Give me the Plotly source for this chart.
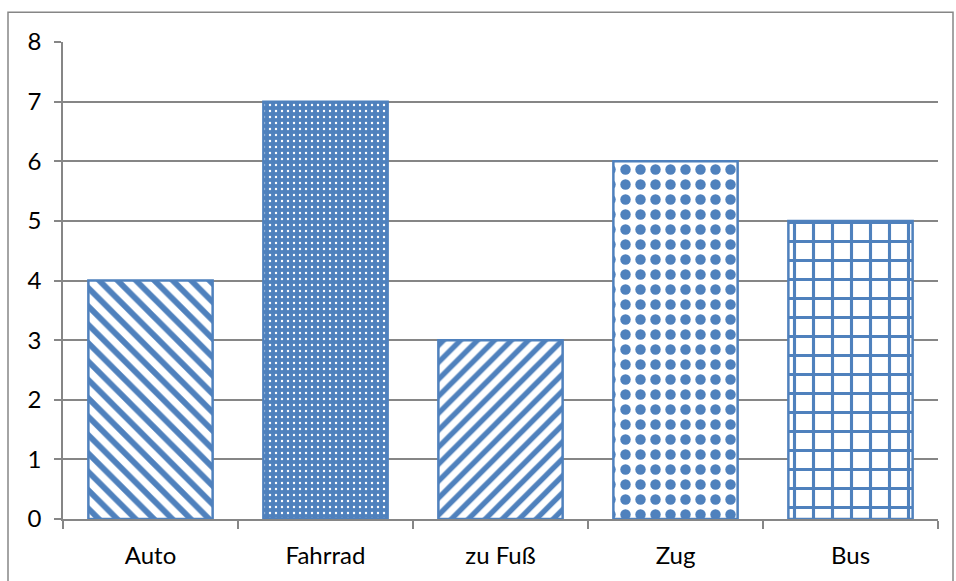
import plotly.graph_objects as go

categories = ["Auto", "Fahrrad", "zu Fuß", "Zug", "Bus"]
values = [4, 7, 3, 6, 5]
y_ticks = [0, 1, 2, 3, 4, 5, 6, 7, 8]

BLUE = "#4F81BD"
GRAY = "#868686"
pattern_shapes = ["\\", ".", "/", ".", "+"]
pattern_sizes = [13, 6, 12, 15, 19]
pattern_solidity = [0.45, 0.12, 0.45, 0.38, 0.3]
pattern_fg = [BLUE, "white", BLUE, BLUE, BLUE]
pattern_bg = ["white", BLUE, "white", "white", "white"]

fig = go.Figure(go.Bar(
    x=categories, y=values,
    marker=dict(
        color=BLUE,
        line=dict(color=BLUE, width=2.5),
        pattern=dict(shape=pattern_shapes, size=pattern_sizes,
                     solidity=pattern_solidity, fgcolor=pattern_fg,
                     bgcolor=pattern_bg, fillmode="replace"),
    ),
    showlegend=False,
))

L, R, T, B = 63, 18, 42, 59
W, H = 956, 581
pw, ph = W - L - R, H - T - B
fig.add_shape(type="rect", xref="paper", yref="paper",
              x0=(8 - L) / pw, x1=(953 - L) / pw,
              y0=(T + ph - 590) / ph, y1=(T + ph - 12) / ph,
              line=dict(color=GRAY, width=1.5), fillcolor="rgba(0,0,0,0)", layer="below")

fig.update_layout(
    width=W, height=H,
    margin=dict(l=L, r=R, t=T, b=B),
    paper_bgcolor="white", plot_bgcolor="white",
    bargap=0.29,
    font=dict(family="Lato", size=24, color="black"),
    xaxis=dict(showgrid=False, showline=True, linecolor=GRAY, linewidth=1.5,
               ticks="outside", tickson="boundaries", ticklen=8, tickcolor=GRAY,
               tickwidth=1.5, ticklabelstandoff=14),
    yaxis=dict(range=[0, 8], tickvals=y_ticks, showgrid=True, gridcolor=GRAY,
               gridwidth=1.5, showline=True, linecolor=GRAY, linewidth=1.5,
               ticks="outside", ticklen=7, tickcolor=GRAY, tickwidth=1.5,
               zeroline=False, ticklabelstandoff=8),
)

fig.write_html("out.html", config={"displayModeBar": False},
               post_script="document.body.style.margin='0';document.body.style.overflow='hidden';")
